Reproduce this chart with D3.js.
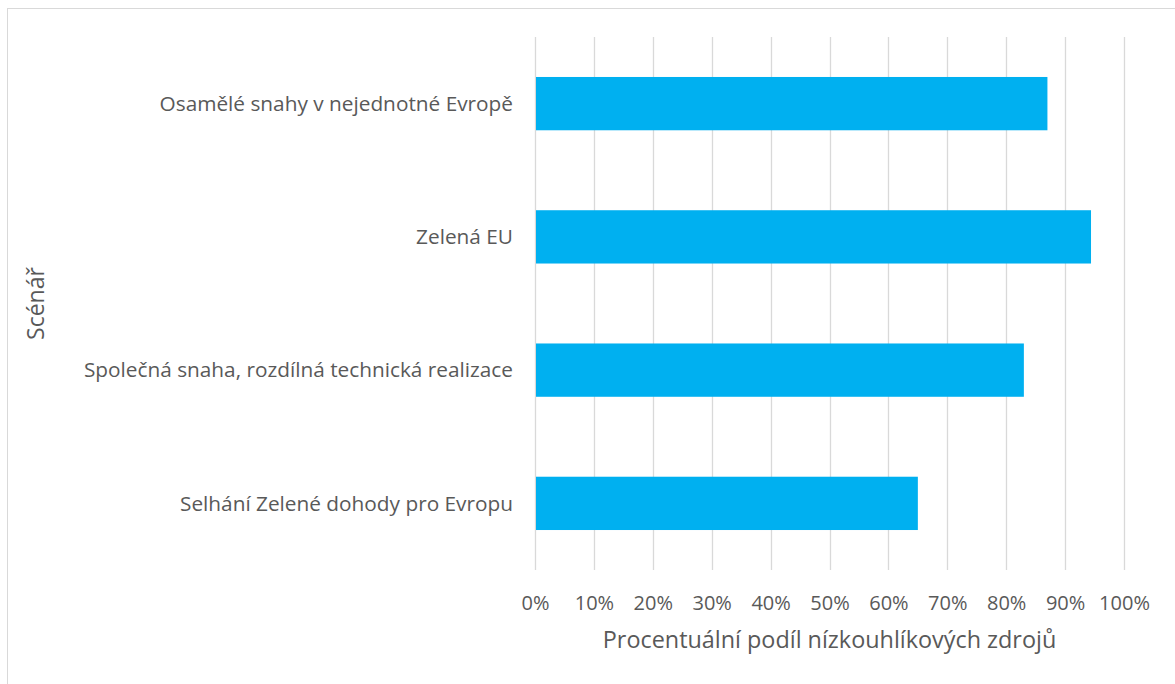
<!DOCTYPE html>
<html>
<head>
<meta charset="utf-8">
<script src="https://cdn.jsdelivr.net/npm/d3@7"></script>
<style>
  html, body { margin: 0; padding: 0; background: #fff; }
  svg { display: block; }
  text { font-family: "Open Sans", "Noto Sans", sans-serif; fill: #595959; }
</style>
</head>
<body>
<svg id="chart" width="1175" height="684"></svg>
<script>
const categories = [
  "Osamělé snahy v nejednotné Evropě",
  "Zelená EU",
  "Společná snaha, rozdílná technická realizace",
  "Selhání Zelené dohody pro Evropu"
];
const values = [0.87, 0.944, 0.83, 0.65];
const tickValues = [0, 0.1, 0.2, 0.3, 0.4, 0.5, 0.6, 0.7, 0.8, 0.9, 1.0];
const xTitle = "Procentuální podíl nízkouhlíkových zdrojů";
const yTitle = "Scénář";

const svg = d3.select("#chart");
const W = 1175, H = 684;
const m = { left: 535, right: W - 1124, top: 37, bottom: H - 570 };

// chart border
svg.append("rect")
  .attr("x", 7.5).attr("y", 8.5)
  .attr("width", W + 20).attr("height", H + 20)
  .attr("fill", "none").attr("stroke", "#d9d9d9").attr("stroke-width", 1);

const x = d3.scaleLinear().domain([0, 1]).range([m.left, W - m.right]);
const y = d3.scaleBand().domain(categories).range([m.top, H - m.bottom]).paddingInner(0.6).paddingOuter(0.3);

// gridlines
svg.append("g").selectAll("line").data(tickValues).join("line")
  .attr("x1", d => Math.round(x(d)) + 0.5).attr("x2", d => Math.round(x(d)) + 0.5)
  .attr("y1", m.top).attr("y2", H - m.bottom)
  .attr("stroke", "#d9d9d9").attr("stroke-width", 1.3);

// bars
svg.append("g").selectAll("rect").data(categories).join("rect")
  .attr("x", x(0) + 1)
  .attr("y", d => y(d))
  .attr("width", (d, i) => x(values[i]) - x(0) - 1)
  .attr("height", y.bandwidth())
  .attr("fill", "#00b0f0");

// x axis tick labels
const xAxis = d3.axisBottom(x).tickValues(tickValues).tickSize(0).tickPadding(0)
  .tickFormat(d3.format(".0%"));
const gx = svg.append("g").attr("transform", `translate(0, ${H - m.bottom})`).call(xAxis);
gx.select(".domain").remove();
gx.selectAll("text").attr("y", 0).attr("dy", 0)
  .attr("transform", "translate(0, 40)")
  .style("font-size", "20px").style("font-family", '"Open Sans", sans-serif').attr("fill", "#595959");

// y axis labels
const yAxis = d3.axisLeft(y).tickSize(0).tickPadding(22);
const gy = svg.append("g").attr("transform", `translate(${m.left}, 0)`).call(yAxis);
gy.select(".domain").remove();
gy.selectAll("text").attr("dy", "0.35em")
  .style("font-size", "20.8px").style("font-family", '"Open Sans", sans-serif').attr("fill", "#595959");

// axis titles
svg.append("text")
  .attr("x", (x(0) + x(1)) / 2).attr("y", 648)
  .attr("text-anchor", "middle")
  .style("font-size", "23.4px")
  .text(xTitle);

svg.append("text")
  .attr("transform", `translate(36, ${(m.top + H - m.bottom) / 2}) rotate(-90)`)
  .attr("text-anchor", "middle").attr("dy", "0.35em")
  .style("font-size", "23px")
  .text(yTitle);
</script>
</body>
</html>
